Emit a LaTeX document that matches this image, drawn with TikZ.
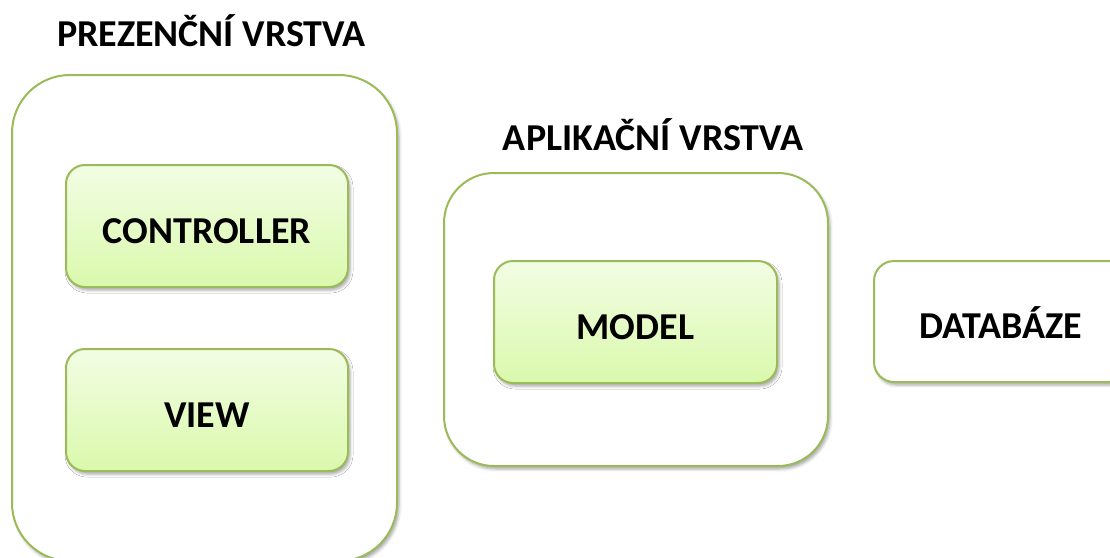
\documentclass[tikz,border=0pt]{standalone}
\usepackage{fontspec}
\setmainfont{Carlito}
\usetikzlibrary{shadows.blur}
\definecolor{edgegreen}{RGB}{155,187,89}
\definecolor{fillTop}{RGB}{242,253,228}
\definecolor{fillBottom}{RGB}{218,249,172}
\tikzset{
  labelfont/.style={font=\bfseries\fontsize{38}{44}\selectfont},
  caption/.style={labelfont, anchor=base, inner sep=0pt},
  boxshadow/.style={blur shadow={shadow xshift=2pt, shadow yshift=-3pt,
      shadow blur radius=3pt, shadow opacity=35}},
  layerbox/.style={draw=edgegreen, line width=2pt, fill=white,
      rounded corners=#1, boxshadow, inner sep=0pt},
  compbox/.style={draw=edgegreen, line width=2pt, rounded corners=19pt,
      top color=fillTop, bottom color=fillBottom, boxshadow, inner sep=0pt,
      labelfont, text height=34pt, text depth=0pt},
  dbbox/.style={draw=edgegreen, line width=2pt, rounded corners=20pt,
      fill=white, boxshadow, inner sep=0pt,
      labelfont, text height=34pt, text depth=0pt}
}
\begin{document}
\begin{tikzpicture}[x=1pt, y=-1pt]
\useasboundingbox (0,0) rectangle (1110,557);
\clip (0,0) rectangle (1110,557);

% presentation layer
\node[layerbox=58pt, minimum width=385pt, minimum height=486pt] (pres) at (204.5,318) {};
\node[caption] (presTitle) at (211.5,46) {PREZENČNÍ VRSTVA};
\node[compbox, minimum width=282pt, minimum height=122pt] (ctrl) at (207,226) {CONTROLLER};
\node[compbox, minimum width=282pt, minimum height=122pt] (view) at (207,410) {VIEW};

% application layer
\node[layerbox=50pt, minimum width=384pt, minimum height=293pt] (app) at (636,319.5) {};
\node[caption] (appTitle) at (653,150) {APLIKAČNÍ VRSTVA};
\node[compbox, minimum width=283pt, minimum height=122pt] (model) at (635.5,322) {MODEL};

% database
\node[dbbox, minimum width=254pt, minimum height=121pt] (db) at (1001,321.5) {DATABÁZE};
\end{tikzpicture}
\end{document}
